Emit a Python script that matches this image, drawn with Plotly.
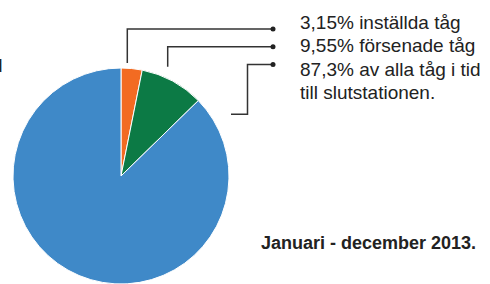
import plotly.graph_objects as go

W, H = 490, 284

labels = ["inställda tåg", "försenade tåg", "i tid till slutstationen"]
values = [3.15, 9.55, 87.3]
colors = ["#F26B22", "#0C7A45", "#3F89C8"]
label_lines = ["3,15% inställda tåg", "9,55% försenade tåg",
               "87,3% av alla tåg i tid", "till slutstationen."]
period = "Januari - december 2013."

def px(x):
    return x / W

def py(y):
    return 1 - y / H

# pie geometry in pixels
cx, cy, r = 121, 176, 108

fig = go.Figure(go.Pie(
    labels=labels, values=values, sort=False, direction="clockwise", rotation=0,
    marker=dict(colors=colors, line=dict(color="white", width=1)),
    textinfo="none", hoverinfo="label+percent", showlegend=False,
    domain=dict(x=[px(cx - r), px(cx + r)], y=[py(cy + r), py(cy - r)]),
))

line_col = "#333333"
paths = [
    [(127.3, 63), (127.3, 29), (273, 29)],
    [(167.7, 66.7), (167.7, 46.7), (273, 46.7)],
    [(231, 114.3), (247.5, 114.3), (247.5, 64.5), (273, 64.5)],
]
shapes = []
for pts in paths:
    d = "M " + " L ".join(f"{px(x)},{py(y)}" for x, y in pts)
    shapes.append(dict(type="path", xref="paper", yref="paper", path=d,
                       line=dict(color=line_col, width=1.5)))
    ex, ey = pts[-1]
    shapes.append(dict(type="circle", xref="paper", yref="paper",
                       x0=px(ex - 2.5), x1=px(ex + 2.5), y0=py(ey + 2.5), y1=py(ey - 2.5),
                       fillcolor="#222222", line=dict(width=0)))

annotations = []
text_y = [22, 45.5, 69, 92]
for t, yy in zip(label_lines, text_y):
    annotations.append(dict(x=px(298), y=py(yy), xref="paper", yref="paper",
                            text=t, showarrow=False, xanchor="left", yanchor="middle",
                            font=dict(family="Liberation Sans", size=19, color="#222222")))
annotations.append(dict(x=px(259), y=py(243), xref="paper", yref="paper",
                        text=f"<b>{period}</b>", showarrow=False, xanchor="left", yanchor="middle",
                        font=dict(family="Liberation Sans", size=18, color="#222222")))
annotations.append(dict(x=px(5), y=py(65), xref="paper", yref="paper",
                        text="d", showarrow=False, xanchor="right", yanchor="middle",
                        font=dict(family="Liberation Sans", size=19, color="#222222")))

fig.update_layout(
    width=W, height=H, margin=dict(l=0, r=0, t=0, b=0),
    paper_bgcolor="white", plot_bgcolor="white",
    shapes=shapes, annotations=annotations,
)

fig.write_html("out.html", config={"displayModeBar": False},
               post_script="document.body.style.margin='0';document.body.style.overflow='hidden';")
